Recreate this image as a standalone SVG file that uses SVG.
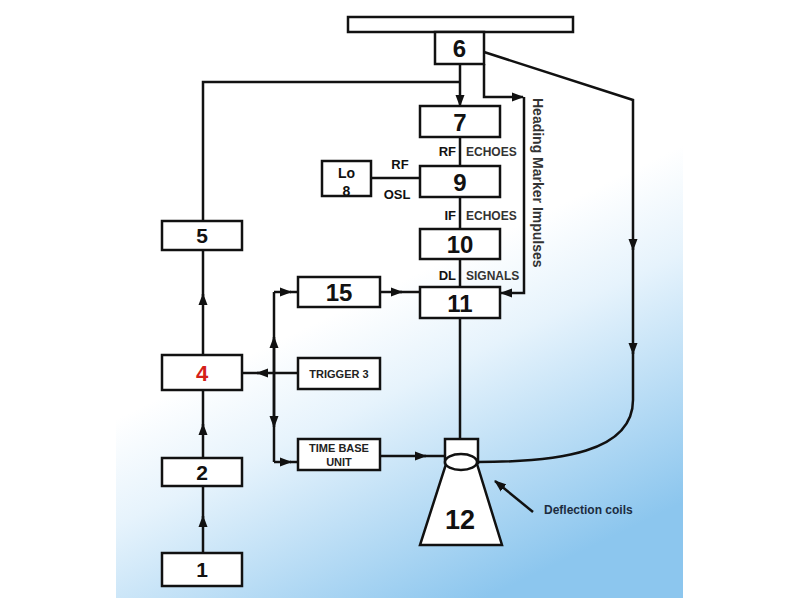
<svg xmlns="http://www.w3.org/2000/svg" width="799" height="599" viewBox="0 0 799 599">
<defs>
<linearGradient id="bg" gradientUnits="userSpaceOnUse" x1="300" y1="330" x2="440" y2="620">
<stop offset="0" stop-color="#ffffff"/>
<stop offset="0.3" stop-color="#e6f3fc"/>
<stop offset="1" stop-color="#8cc6ee"/>
</linearGradient>
<marker id="ah" markerUnits="userSpaceOnUse" markerWidth="12" markerHeight="10" refX="11" refY="5" orient="auto">
<path d="M0,0.5 L12,5 L0,9.5 z" fill="#111"/>
</marker>
<style>
.b{fill:#fff;stroke:#111;stroke-width:2.5}
.c{fill:none;stroke:#111;stroke-width:2.5}
.a{fill:none;stroke:#111;stroke-width:2.5;marker-end:url(#ah)}
.n{font-family:"Liberation Sans",Arial,sans-serif;font-weight:bold;font-size:24px;fill:#111;text-anchor:middle}
.s{font-family:"Liberation Sans",Arial,sans-serif;font-weight:bold;font-size:11px;fill:#222;text-anchor:middle}
.l{font-family:"Liberation Sans",Arial,sans-serif;font-weight:bold;font-size:13px;fill:#111}
.e{font-family:"Liberation Sans",Arial,sans-serif;font-weight:bold;font-size:12px;fill:#333}
</style>
</defs>
<rect x="0" y="0" width="799" height="599" fill="#fff"/>
<rect x="116" y="0" width="567" height="598" fill="url(#bg)"/>

<g id="connectors">
<path class="a" d="M460,64 V106"/>
<path class="c" d="M203,221 V82 H460"/>
<path class="a" d="M484,64 V97 H523"/>
<path class="a" d="M524,97 V293 H501"/>
<path class="a" d="M484,52 L633,100 V250"/>
<path class="a" d="M633,248 V354"/>
<path class="c" d="M633,352 V400 C633,452 560,462 477,462"/>
<path class="c" d="M460,137 V166"/>
<path class="c" d="M371,178 H420"/>
<path class="c" d="M460,197 V229"/>
<path class="c" d="M460,259 V287"/>
<path class="a" d="M380,292 H402"/>
<path class="c" d="M400,292 H420"/>
<path class="c" d="M274,292 V462"/>
<path class="a" d="M274,292 H291"/>
<path class="c" d="M290,292 H298"/>
<path class="a" d="M274,462 H291"/>
<path class="c" d="M290,462 H298"/>
<path class="a" d="M274,373 V337"/>
<path class="a" d="M274,373 V427"/>
<path class="a" d="M298,373 H257"/>
<path class="c" d="M259,373 H242"/>
<path class="a" d="M203,355 V294"/>
<path class="c" d="M203,296 V250"/>
<path class="a" d="M203,458 V424"/>
<path class="c" d="M203,426 V390"/>
<path class="a" d="M203,553 V516"/>
<path class="c" d="M203,518 V486"/>
<path class="a" d="M380,456 H426"/>
<path class="c" d="M424,456 H447"/>
<path class="c" d="M460,318 V439"/>
<path class="a" d="M533,512 L495,481"/>
</g>

<g id="antenna"><rect class="b" x="348" y="17" width="225" height="15"/></g>
<g id="n6"><rect class="b" x="435" y="32" width="49" height="32"/><text class="n" x="459.5" y="57">6</text></g>
<g id="n7"><rect class="b" x="420" y="106" width="80" height="31"/><text class="n" x="460" y="131">7</text></g>
<g id="n9"><rect class="b" x="420" y="166" width="80" height="31"/><text class="n" x="460" y="191">9</text></g>
<g id="n10"><rect class="b" x="420" y="229" width="80" height="30"/><text class="n" x="460" y="253">10</text></g>
<g id="n11"><rect class="b" x="420" y="287" width="80" height="31"/><text class="n" x="460" y="312">11</text></g>
<g id="n8"><rect class="b" x="322" y="161" width="49" height="35"/><text class="n" style="font-size:14px" x="346.5" y="178">Lo</text><text class="n" style="font-size:14px" x="346.5" y="196">8</text></g>
<g id="n15"><rect class="b" x="298" y="277" width="82" height="30"/><text class="n" x="339" y="301">15</text></g>
<g id="n3"><rect class="b" x="298" y="358" width="82" height="31"/><text class="s" x="339" y="378">TRIGGER 3</text></g>
<g id="ntb"><rect class="b" x="298" y="439" width="82" height="31"/><text class="s" x="339" y="452">TIME BASE</text><text class="s" x="339" y="466">UNIT</text></g>
<g id="n5"><rect class="b" x="162" y="221" width="80" height="29"/><text class="n" style="font-size:21px" x="202" y="243">5</text></g>
<g id="n4"><rect class="b" x="162" y="355" width="80" height="35"/><text class="n" style="font-size:22px;fill:#d42018" x="202" y="381">4</text></g>
<g id="n2"><rect class="b" x="162" y="458" width="80" height="28"/><text class="n" style="font-size:21px" x="202" y="480">2</text></g>
<g id="n1"><rect class="b" x="162" y="553" width="80" height="33"/><text class="n" style="font-size:21px" x="202" y="577">1</text></g>
<g id="n12">
<rect class="b" x="445" y="439" width="33" height="24"/>
<polygon class="b" points="446,464 477,464 502,545 420,545"/>
<ellipse class="b" cx="461" cy="462" rx="16" ry="8"/>
<text class="n" style="font-size:27px" x="460" y="529">12</text>
</g>

<g id="labels">
<text class="l" x="456" y="156" text-anchor="end">RF</text>
<text class="e" x="466" y="156">ECHOES</text>
<text class="l" x="400" y="169" text-anchor="middle">RF</text>
<text class="l" x="397" y="199" text-anchor="middle">OSL</text>
<text class="l" x="456" y="220" text-anchor="end">IF</text>
<text class="e" x="466" y="220">ECHOES</text>
<text class="l" x="456" y="280" text-anchor="end">DL</text>
<text class="e" x="466" y="280">SIGNALS</text>
<text class="l" style="font-size:14px;fill:#333" transform="translate(533,98) rotate(90)">Heading Marker Impulses</text>
<text class="l" style="font-size:12px;fill:#1c2c40" x="544" y="514">Deflection coils</text>
</g>
</svg>
